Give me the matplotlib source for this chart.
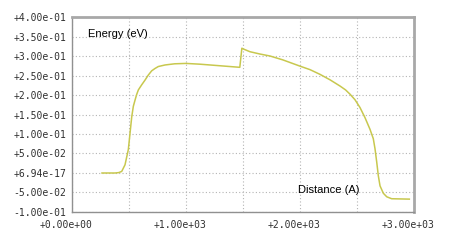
import numpy as np
import matplotlib
matplotlib.use('Agg')
from matplotlib import pyplot as plt
from matplotlib.transforms import ScaledTranslation

# curve
distance = [263, 377, 410, 436, 465, 494, 509, 524, 538, 553, 568, 582, 611,
            640, 669, 699, 728, 757, 816, 900, 1000, 1123, 1298, 1472, 1490,
            1503, 1561, 1650, 1737, 1850, 2000, 2088, 2175, 2263, 2351, 2400,
            2439, 2482, 2526, 2570, 2614, 2643, 2658, 2673, 2687, 2702, 2731,
            2761, 2804, 2959]
energy = [0.0, 0.0, 0.001, 0.004, 0.021, 0.06, 0.102, 0.144, 0.171, 0.187,
          0.202, 0.213, 0.226, 0.238, 0.251, 0.262, 0.268, 0.273, 0.277, 0.280,
          0.281, 0.279, 0.275, 0.271, 0.32, 0.318, 0.311, 0.305, 0.300, 0.290,
          0.274, 0.265, 0.253, 0.239, 0.223, 0.213, 0.202, 0.188, 0.168, 0.142,
          0.112, 0.088, 0.062, 0.028, -0.007, -0.033, -0.052, -0.061, -0.066,
          -0.067]

xticks = [0, 1000, 2000, 3000]
xtick_labels = ['+0.00e+00', '+1.00e+03', '+2.00e+03', '+3.00e+03']
yticks = [-0.1, -0.05, 0.0, 0.05, 0.1, 0.15, 0.2, 0.25, 0.3, 0.35, 0.4]
ytick_labels = ['-1.00e-01', '-5.00e-02', '+6.94e-17', '+5.00e-02', '+1.00e-01',
                '+1.50e-01', '+2.00e-01', '+2.50e-01', '+3.00e-01', '+3.50e-01',
                '+4.00e-01']

fig = plt.figure(figsize=(4.5, 2.43), dpi=100)
ax = fig.add_axes([0.16, 0.1276, 0.76, 0.8024])

ax.plot(distance, energy, color='#c8c84e', lw=1.1)

ax.set_xlim(0, 3000)
ax.set_ylim(-0.1, 0.4)
ax.set_xticks(xticks)
ax.set_xticklabels(xtick_labels)
ax.set_xticks(np.arange(500, 3000, 1000), minor=True)
ax.set_yticks(yticks)
ax.set_yticklabels(ytick_labels)
ax.tick_params(which='both', length=0, labelsize=7, colors='#303030', pad=4)
ax.tick_params(axis='x', pad=6)
for lab in ax.get_xticklabels() + ax.get_yticklabels():
    lab.set_fontfamily('DejaVu Sans Mono')
for lab in ax.get_xticklabels():
    lab.set_transform(lab.get_transform() + ScaledTranslation(-0.06, 0, fig.dpi_scale_trans))

ax.grid(True, which='both', color='#b4b4b4', ls=(0, (1, 2)), lw=0.8)
ax.set_axisbelow(True)

for s in ['left', 'bottom']:
    ax.spines[s].set_color('#909090')
    ax.spines[s].set_linewidth(1)
for s in ['top', 'right']:
    ax.spines[s].set_color('#a8a8a8')
    ax.spines[s].set_linewidth(2)

ax.text(140, 0.356, 'Energy (eV)', fontsize=8, family='Liberation Sans', va='center', ha='left')
ax.text(1982, -0.044, 'Distance (A)', fontsize=8, family='Liberation Sans', va='center', ha='left')

plt.savefig('out.png', dpi=100)
